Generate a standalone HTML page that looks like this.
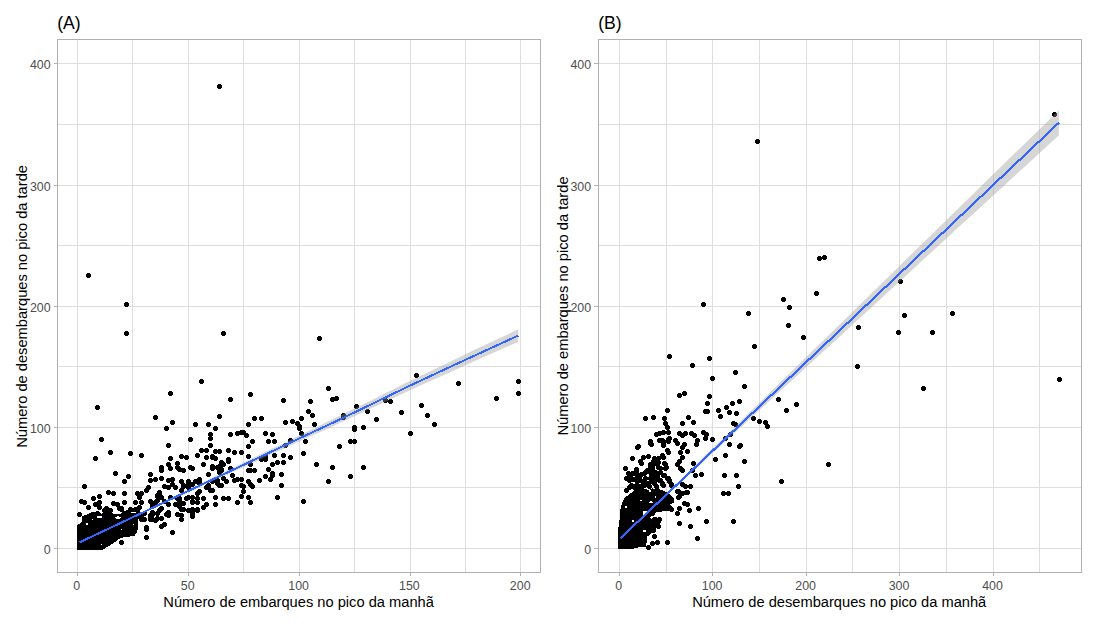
<!DOCTYPE html><html><head><meta charset="utf-8"><title>plot</title>
<style>html,body{margin:0;padding:0;background:#fff}svg{display:block}text{font-family:"Liberation Sans",sans-serif}</style></head><body>
<svg width="1096" height="624" viewBox="0 0 1096 624">
<rect width="1096" height="624" fill="#fff"/>
<defs><path id="p" d="M1 0h3v1h1v3h-1v1h-3v-1h-1v-3h1z"/></defs>
<g shape-rendering="crispEdges" stroke="#dedede" stroke-width="1">
<line x1="77.5" x2="77.5" y1="40" y2="572"/>
<line x1="132.5" x2="132.5" y1="40" y2="572"/>
<line x1="188.5" x2="188.5" y1="40" y2="572"/>
<line x1="243.5" x2="243.5" y1="40" y2="572"/>
<line x1="299.5" x2="299.5" y1="40" y2="572"/>
<line x1="354.5" x2="354.5" y1="40" y2="572"/>
<line x1="410.5" x2="410.5" y1="40" y2="572"/>
<line x1="465.5" x2="465.5" y1="40" y2="572"/>
<line x1="520.5" x2="520.5" y1="40" y2="572"/>
<line y1="548.5" y2="548.5" x1="58" x2="540"/>
<line y1="487.5" y2="487.5" x1="58" x2="540"/>
<line y1="427.5" y2="427.5" x1="58" x2="540"/>
<line y1="366.5" y2="366.5" x1="58" x2="540"/>
<line y1="306.5" y2="306.5" x1="58" x2="540"/>
<line y1="245.5" y2="245.5" x1="58" x2="540"/>
<line y1="185.5" y2="185.5" x1="58" x2="540"/>
<line y1="124.5" y2="124.5" x1="58" x2="540"/>
<line y1="63.5" y2="63.5" x1="58" x2="540"/>
</g>
<g shape-rendering="crispEdges" stroke="#dedede" stroke-width="1">
<line x1="619.5" x2="619.5" y1="40" y2="572"/>
<line x1="666.5" x2="666.5" y1="40" y2="572"/>
<line x1="712.5" x2="712.5" y1="40" y2="572"/>
<line x1="759.5" x2="759.5" y1="40" y2="572"/>
<line x1="806.5" x2="806.5" y1="40" y2="572"/>
<line x1="852.5" x2="852.5" y1="40" y2="572"/>
<line x1="899.5" x2="899.5" y1="40" y2="572"/>
<line x1="946.5" x2="946.5" y1="40" y2="572"/>
<line x1="993.5" x2="993.5" y1="40" y2="572"/>
<line x1="1039.5" x2="1039.5" y1="40" y2="572"/>
<line y1="548.5" y2="548.5" x1="599" x2="1081"/>
<line y1="487.5" y2="487.5" x1="599" x2="1081"/>
<line y1="427.5" y2="427.5" x1="599" x2="1081"/>
<line y1="366.5" y2="366.5" x1="599" x2="1081"/>
<line y1="306.5" y2="306.5" x1="599" x2="1081"/>
<line y1="245.5" y2="245.5" x1="599" x2="1081"/>
<line y1="185.5" y2="185.5" x1="599" x2="1081"/>
<line y1="124.5" y2="124.5" x1="599" x2="1081"/>
<line y1="63.5" y2="63.5" x1="599" x2="1081"/>
</g>
<g fill="#000" shape-rendering="crispEdges">
<polygon points="77.2,549.7 102.7,549.7 106.5,547.5 111,544.8 117,540.5 119.5,538.8 124,537.2 130,536.5 134,536.2 137.4,532 138,524 138,521 140,514 140,507.5 133.7,509 128,510 123.4,511 121,514 115,514.5 111.9,513 111.8,508.5 106,507 103.7,510 102,514 96.5,511.7 90.7,512.6 82.4,516.4 82,522 77.2,525.3"/>
<polygon points="618.2,549.3 631,549.3 637,547.6 646,547 646.6,542 647.5,536.5 651,533.5 655,531 656.5,527 655,522 652,520 650,517.5 653,514 657,512 661,511.5 665,511.3 670,511.3 672.3,509 672.3,506.5 670.5,504.5 674.3,502.5 674.3,499 672,497 669.5,494 664,491 659.6,489.5 652.4,488.4 649,490 646.8,489.5 641,487 636.4,488.4 630.8,493.2 624.4,498 620.7,506.5 619.7,519 618.2,529"/>
<ellipse cx="133.5" cy="524.5" rx="0.6" ry="0.6" fill="#fff"/>
<ellipse cx="121.5" cy="529.5" rx="0.6" ry="0.6" fill="#fff"/>
<ellipse cx="101.5" cy="544.5" rx="0.6" ry="0.6" fill="#fff"/>
<ellipse cx="118" cy="517.8" rx="3.0" ry="1.4" fill="#fff"/>
<ellipse cx="99.5" cy="516.8" rx="2.8" ry="1.2" fill="#fff"/>
<ellipse cx="86.9" cy="523.8" rx="1.0" ry="1.2" fill="#fff"/>
<ellipse cx="92.3" cy="519.4" rx="0.7" ry="0.7" fill="#fff"/>
<ellipse cx="133.5" cy="512.6" rx="2.2" ry="0.8" fill="#fff"/>
<ellipse cx="649.9" cy="491.2" rx="1.1" ry="1.1" fill="#fff"/>
<ellipse cx="651" cy="502.4" rx="2.0" ry="1.0" fill="#fff"/>
<ellipse cx="641" cy="500.4" rx="1.4" ry="0.8" fill="#fff"/>
<ellipse cx="644.8" cy="513.0" rx="2.4" ry="2.0" fill="#fff"/>
<ellipse cx="655.5" cy="497" rx="1.0" ry="1.0" fill="#fff"/>
<ellipse cx="644.7" cy="531.1" rx="1.6" ry="1.1" fill="#fff"/>
<ellipse cx="626" cy="507" rx="0.9" ry="0.9" fill="#fff"/>
<ellipse cx="633" cy="521" rx="0.8" ry="0.8" fill="#fff"/>
<use href="#p" x="217" y="84"/>
<use href="#p" x="86" y="273"/>
<use href="#p" x="124" y="302"/>
<use href="#p" x="124" y="331"/>
<use href="#p" x="221" y="331"/>
<use href="#p" x="317" y="336"/>
<use href="#p" x="199" y="379"/>
<use href="#p" x="168" y="391"/>
<use href="#p" x="326" y="386"/>
<use href="#p" x="308" y="399"/>
<use href="#p" x="330" y="397"/>
<use href="#p" x="334" y="396"/>
<use href="#p" x="306" y="409"/>
<use href="#p" x="310" y="413"/>
<use href="#p" x="299" y="416"/>
<use href="#p" x="312" y="422"/>
<use href="#p" x="297" y="426"/>
<use href="#p" x="299" y="431"/>
<use href="#p" x="341" y="413"/>
<use href="#p" x="341" y="415"/>
<use href="#p" x="354" y="404"/>
<use href="#p" x="365" y="409"/>
<use href="#p" x="352" y="425"/>
<use href="#p" x="352" y="427"/>
<use href="#p" x="361" y="425"/>
<use href="#p" x="374" y="417"/>
<use href="#p" x="383" y="398"/>
<use href="#p" x="388" y="399"/>
<use href="#p" x="399" y="410"/>
<use href="#p" x="414" y="373"/>
<use href="#p" x="419" y="403"/>
<use href="#p" x="425" y="413"/>
<use href="#p" x="432" y="422"/>
<use href="#p" x="408" y="431"/>
<use href="#p" x="456" y="381"/>
<use href="#p" x="494" y="396"/>
<use href="#p" x="516" y="379"/>
<use href="#p" x="516" y="391"/>
<use href="#p" x="303" y="439"/>
<use href="#p" x="301" y="451"/>
<use href="#p" x="314" y="462"/>
<use href="#p" x="330" y="465"/>
<use href="#p" x="326" y="479"/>
<use href="#p" x="301" y="499"/>
<use href="#p" x="337" y="444"/>
<use href="#p" x="348" y="439"/>
<use href="#p" x="352" y="439"/>
<use href="#p" x="348" y="474"/>
<use href="#p" x="361" y="465"/>
<use href="#p" x="228" y="397"/>
<use href="#p" x="248" y="392"/>
<use href="#p" x="281" y="398"/>
<use href="#p" x="217" y="414"/>
<use href="#p" x="252" y="416"/>
<use href="#p" x="259" y="416"/>
<use href="#p" x="246" y="422"/>
<use href="#p" x="283" y="420"/>
<use href="#p" x="290" y="419"/>
<use href="#p" x="295" y="421"/>
<use href="#p" x="297" y="424"/>
<use href="#p" x="206" y="422"/>
<use href="#p" x="213" y="426"/>
<use href="#p" x="228" y="432"/>
<use href="#p" x="235" y="431"/>
<use href="#p" x="239" y="430"/>
<use href="#p" x="241" y="430"/>
<use href="#p" x="244" y="433"/>
<use href="#p" x="263" y="431"/>
<use href="#p" x="270" y="432"/>
<use href="#p" x="208" y="432"/>
<use href="#p" x="208" y="436"/>
<use href="#p" x="208" y="443"/>
<use href="#p" x="250" y="439"/>
<use href="#p" x="246" y="444"/>
<use href="#p" x="266" y="439"/>
<use href="#p" x="272" y="439"/>
<use href="#p" x="288" y="438"/>
<use href="#p" x="283" y="443"/>
<use href="#p" x="204" y="448"/>
<use href="#p" x="213" y="449"/>
<use href="#p" x="217" y="449"/>
<use href="#p" x="226" y="448"/>
<use href="#p" x="232" y="450"/>
<use href="#p" x="239" y="450"/>
<use href="#p" x="246" y="454"/>
<use href="#p" x="263" y="454"/>
<use href="#p" x="272" y="453"/>
<use href="#p" x="281" y="453"/>
<use href="#p" x="288" y="455"/>
<use href="#p" x="210" y="454"/>
<use href="#p" x="259" y="457"/>
<use href="#p" x="275" y="460"/>
<use href="#p" x="281" y="460"/>
<use href="#p" x="270" y="462"/>
<use href="#p" x="266" y="467"/>
<use href="#p" x="248" y="462"/>
<use href="#p" x="246" y="468"/>
<use href="#p" x="248" y="468"/>
<use href="#p" x="252" y="468"/>
<use href="#p" x="279" y="472"/>
<use href="#p" x="270" y="471"/>
<use href="#p" x="270" y="473"/>
<use href="#p" x="263" y="474"/>
<use href="#p" x="268" y="477"/>
<use href="#p" x="257" y="478"/>
<use href="#p" x="279" y="483"/>
<use href="#p" x="275" y="495"/>
<use href="#p" x="246" y="479"/>
<use href="#p" x="248" y="482"/>
<use href="#p" x="250" y="484"/>
<use href="#p" x="239" y="483"/>
<use href="#p" x="241" y="484"/>
<use href="#p" x="241" y="489"/>
<use href="#p" x="239" y="494"/>
<use href="#p" x="246" y="495"/>
<use href="#p" x="248" y="500"/>
<use href="#p" x="235" y="500"/>
<use href="#p" x="226" y="496"/>
<use href="#p" x="221" y="496"/>
<use href="#p" x="213" y="495"/>
<use href="#p" x="213" y="502"/>
<use href="#p" x="204" y="502"/>
<use href="#p" x="206" y="485"/>
<use href="#p" x="210" y="488"/>
<use href="#p" x="217" y="483"/>
<use href="#p" x="215" y="481"/>
<use href="#p" x="224" y="479"/>
<use href="#p" x="221" y="476"/>
<use href="#p" x="230" y="473"/>
<use href="#p" x="232" y="478"/>
<use href="#p" x="235" y="477"/>
<use href="#p" x="239" y="477"/>
<use href="#p" x="228" y="466"/>
<use href="#p" x="226" y="457"/>
<use href="#p" x="226" y="459"/>
<use href="#p" x="219" y="460"/>
<use href="#p" x="221" y="462"/>
<use href="#p" x="217" y="464"/>
<use href="#p" x="210" y="464"/>
<use href="#p" x="210" y="466"/>
<use href="#p" x="217" y="468"/>
<use href="#p" x="219" y="467"/>
<use href="#p" x="210" y="455"/>
<use href="#p" x="213" y="456"/>
<use href="#p" x="206" y="472"/>
<use href="#p" x="204" y="455"/>
<use href="#p" x="215" y="478"/>
<use href="#p" x="95" y="405"/>
<use href="#p" x="153" y="415"/>
<use href="#p" x="170" y="420"/>
<use href="#p" x="164" y="426"/>
<use href="#p" x="193" y="422"/>
<use href="#p" x="99" y="437"/>
<use href="#p" x="188" y="437"/>
<use href="#p" x="166" y="443"/>
<use href="#p" x="108" y="450"/>
<use href="#p" x="128" y="451"/>
<use href="#p" x="139" y="453"/>
<use href="#p" x="93" y="456"/>
<use href="#p" x="168" y="456"/>
<use href="#p" x="179" y="454"/>
<use href="#p" x="184" y="455"/>
<use href="#p" x="195" y="453"/>
<use href="#p" x="199" y="448"/>
<use href="#p" x="201" y="462"/>
<use href="#p" x="188" y="465"/>
<use href="#p" x="175" y="461"/>
<use href="#p" x="175" y="465"/>
<use href="#p" x="177" y="467"/>
<use href="#p" x="181" y="468"/>
<use href="#p" x="166" y="462"/>
<use href="#p" x="168" y="466"/>
<use href="#p" x="159" y="465"/>
<use href="#p" x="159" y="468"/>
<use href="#p" x="113" y="471"/>
<use href="#p" x="126" y="474"/>
<use href="#p" x="122" y="479"/>
<use href="#p" x="148" y="472"/>
<use href="#p" x="148" y="478"/>
<use href="#p" x="153" y="477"/>
<use href="#p" x="159" y="476"/>
<use href="#p" x="166" y="478"/>
<use href="#p" x="170" y="477"/>
<use href="#p" x="162" y="484"/>
<use href="#p" x="166" y="485"/>
<use href="#p" x="170" y="482"/>
<use href="#p" x="173" y="485"/>
<use href="#p" x="179" y="479"/>
<use href="#p" x="186" y="482"/>
<use href="#p" x="193" y="479"/>
<use href="#p" x="197" y="478"/>
<use href="#p" x="181" y="484"/>
<use href="#p" x="186" y="485"/>
<use href="#p" x="82" y="484"/>
<use href="#p" x="146" y="485"/>
<use href="#p" x="144" y="488"/>
<use href="#p" x="106" y="490"/>
<use href="#p" x="111" y="491"/>
<use href="#p" x="122" y="491"/>
<use href="#p" x="97" y="494"/>
<use href="#p" x="91" y="496"/>
<use href="#p" x="79" y="499"/>
<use href="#p" x="82" y="500"/>
<use href="#p" x="135" y="491"/>
<use href="#p" x="139" y="491"/>
<use href="#p" x="137" y="495"/>
<use href="#p" x="133" y="500"/>
<use href="#p" x="139" y="500"/>
<use href="#p" x="157" y="490"/>
<use href="#p" x="155" y="494"/>
<use href="#p" x="159" y="495"/>
<use href="#p" x="155" y="498"/>
<use href="#p" x="148" y="499"/>
<use href="#p" x="150" y="501"/>
<use href="#p" x="168" y="495"/>
<use href="#p" x="166" y="502"/>
<use href="#p" x="122" y="500"/>
<use href="#p" x="111" y="501"/>
<use href="#p" x="97" y="500"/>
<use href="#p" x="93" y="502"/>
<use href="#p" x="97" y="505"/>
<use href="#p" x="86" y="505"/>
<use href="#p" x="77" y="512"/>
<use href="#p" x="104" y="506"/>
<use href="#p" x="102" y="508"/>
<use href="#p" x="115" y="502"/>
<use href="#p" x="119" y="506"/>
<use href="#p" x="201" y="496"/>
<use href="#p" x="197" y="489"/>
<use href="#p" x="195" y="491"/>
<use href="#p" x="186" y="495"/>
<use href="#p" x="190" y="495"/>
<use href="#p" x="190" y="499"/>
<use href="#p" x="195" y="500"/>
<use href="#p" x="177" y="498"/>
<use href="#p" x="175" y="502"/>
<use href="#p" x="181" y="501"/>
<use href="#p" x="201" y="505"/>
<use href="#p" x="179" y="507"/>
<use href="#p" x="175" y="512"/>
<use href="#p" x="179" y="517"/>
<use href="#p" x="186" y="508"/>
<use href="#p" x="190" y="507"/>
<use href="#p" x="195" y="508"/>
<use href="#p" x="190" y="512"/>
<use href="#p" x="166" y="510"/>
<use href="#p" x="164" y="512"/>
<use href="#p" x="159" y="506"/>
<use href="#p" x="157" y="508"/>
<use href="#p" x="150" y="510"/>
<use href="#p" x="148" y="514"/>
<use href="#p" x="155" y="516"/>
<use href="#p" x="159" y="516"/>
<use href="#p" x="139" y="516"/>
<use href="#p" x="162" y="522"/>
<use href="#p" x="159" y="524"/>
<use href="#p" x="144" y="525"/>
<use href="#p" x="144" y="527"/>
<use href="#p" x="144" y="535"/>
<use href="#p" x="170" y="530"/>
<use href="#p" x="119" y="540"/>
<use href="#p" x="117" y="506"/>
<use href="#p" x="119" y="507"/>
<use href="#p" x="95" y="511"/>
<use href="#p" x="108" y="508"/>
<use href="#p" x="153" y="500"/>
<use href="#p" x="155" y="493"/>
<use href="#p" x="128" y="507"/>
<use href="#p" x="126" y="510"/>
<use href="#p" x="139" y="517"/>
<use href="#p" x="150" y="517"/>
<use href="#p" x="150" y="512"/>
<use href="#p" x="137" y="505"/>
<use href="#p" x="133" y="507"/>
<use href="#p" x="130" y="513"/>
<use href="#p" x="157" y="493"/>
<use href="#p" x="150" y="504"/>
<use href="#p" x="162" y="499"/>
<use href="#p" x="175" y="496"/>
<use href="#p" x="177" y="504"/>
<use href="#p" x="142" y="511"/>
<use href="#p" x="139" y="514"/>
<use href="#p" x="142" y="517"/>
<use href="#p" x="148" y="513"/>
<use href="#p" x="153" y="518"/>
<use href="#p" x="148" y="517"/>
<use href="#p" x="155" y="511"/>
<use href="#p" x="190" y="466"/>
<use href="#p" x="215" y="465"/>
<use href="#p" x="217" y="470"/>
<use href="#p" x="219" y="468"/>
<use href="#p" x="181" y="483"/>
<use href="#p" x="186" y="479"/>
<use href="#p" x="190" y="482"/>
<use href="#p" x="197" y="477"/>
<use href="#p" x="197" y="481"/>
<use href="#p" x="179" y="488"/>
<use href="#p" x="210" y="479"/>
<use href="#p" x="206" y="483"/>
<use href="#p" x="204" y="485"/>
<use href="#p" x="208" y="488"/>
<use href="#p" x="219" y="483"/>
<use href="#p" x="184" y="496"/>
<use href="#p" x="190" y="500"/>
<use href="#p" x="195" y="496"/>
<use href="#p" x="177" y="496"/>
<use href="#p" x="173" y="502"/>
<use href="#p" x="177" y="501"/>
<use href="#p" x="181" y="507"/>
<use href="#p" x="179" y="513"/>
<use href="#p" x="190" y="510"/>
<use href="#p" x="195" y="507"/>
<use href="#p" x="190" y="514"/>
<use href="#p" x="166" y="513"/>
<use href="#p" x="263" y="457"/>
<use href="#p" x="755" y="139"/>
<use href="#p" x="817" y="256"/>
<use href="#p" x="822" y="255"/>
<use href="#p" x="1052" y="112"/>
<use href="#p" x="814" y="291"/>
<use href="#p" x="781" y="297"/>
<use href="#p" x="787" y="305"/>
<use href="#p" x="701" y="302"/>
<use href="#p" x="746" y="311"/>
<use href="#p" x="786" y="323"/>
<use href="#p" x="801" y="335"/>
<use href="#p" x="752" y="344"/>
<use href="#p" x="667" y="354"/>
<use href="#p" x="707" y="356"/>
<use href="#p" x="690" y="363"/>
<use href="#p" x="856" y="325"/>
<use href="#p" x="855" y="364"/>
<use href="#p" x="898" y="279"/>
<use href="#p" x="902" y="313"/>
<use href="#p" x="950" y="311"/>
<use href="#p" x="896" y="330"/>
<use href="#p" x="930" y="330"/>
<use href="#p" x="921" y="386"/>
<use href="#p" x="1057" y="377"/>
<use href="#p" x="733" y="370"/>
<use href="#p" x="710" y="376"/>
<use href="#p" x="742" y="384"/>
<use href="#p" x="707" y="394"/>
<use href="#p" x="705" y="401"/>
<use href="#p" x="704" y="409"/>
<use href="#p" x="716" y="408"/>
<use href="#p" x="718" y="414"/>
<use href="#p" x="724" y="405"/>
<use href="#p" x="727" y="410"/>
<use href="#p" x="730" y="401"/>
<use href="#p" x="737" y="399"/>
<use href="#p" x="734" y="411"/>
<use href="#p" x="731" y="421"/>
<use href="#p" x="728" y="432"/>
<use href="#p" x="723" y="436"/>
<use href="#p" x="751" y="416"/>
<use href="#p" x="757" y="419"/>
<use href="#p" x="763" y="420"/>
<use href="#p" x="765" y="424"/>
<use href="#p" x="776" y="397"/>
<use href="#p" x="784" y="408"/>
<use href="#p" x="794" y="402"/>
<use href="#p" x="701" y="430"/>
<use href="#p" x="704" y="432"/>
<use href="#p" x="703" y="436"/>
<use href="#p" x="710" y="437"/>
<use href="#p" x="677" y="393"/>
<use href="#p" x="682" y="391"/>
<use href="#p" x="665" y="408"/>
<use href="#p" x="703" y="409"/>
<use href="#p" x="705" y="409"/>
<use href="#p" x="643" y="416"/>
<use href="#p" x="651" y="415"/>
<use href="#p" x="662" y="416"/>
<use href="#p" x="686" y="415"/>
<use href="#p" x="691" y="420"/>
<use href="#p" x="680" y="421"/>
<use href="#p" x="733" y="422"/>
<use href="#p" x="663" y="421"/>
<use href="#p" x="665" y="425"/>
<use href="#p" x="666" y="430"/>
<use href="#p" x="654" y="432"/>
<use href="#p" x="657" y="431"/>
<use href="#p" x="661" y="430"/>
<use href="#p" x="657" y="438"/>
<use href="#p" x="661" y="439"/>
<use href="#p" x="666" y="437"/>
<use href="#p" x="661" y="443"/>
<use href="#p" x="648" y="439"/>
<use href="#p" x="649" y="442"/>
<use href="#p" x="636" y="444"/>
<use href="#p" x="677" y="431"/>
<use href="#p" x="683" y="431"/>
<use href="#p" x="680" y="433"/>
<use href="#p" x="689" y="431"/>
<use href="#p" x="692" y="433"/>
<use href="#p" x="673" y="438"/>
<use href="#p" x="675" y="441"/>
<use href="#p" x="695" y="438"/>
<use href="#p" x="694" y="442"/>
<use href="#p" x="682" y="442"/>
<use href="#p" x="680" y="445"/>
<use href="#p" x="678" y="450"/>
<use href="#p" x="685" y="449"/>
<use href="#p" x="665" y="448"/>
<use href="#p" x="666" y="450"/>
<use href="#p" x="660" y="453"/>
<use href="#p" x="646" y="454"/>
<use href="#p" x="641" y="455"/>
<use href="#p" x="638" y="459"/>
<use href="#p" x="639" y="461"/>
<use href="#p" x="630" y="456"/>
<use href="#p" x="623" y="466"/>
<use href="#p" x="680" y="455"/>
<use href="#p" x="677" y="459"/>
<use href="#p" x="675" y="462"/>
<use href="#p" x="678" y="466"/>
<use href="#p" x="680" y="468"/>
<use href="#p" x="691" y="461"/>
<use href="#p" x="690" y="468"/>
<use href="#p" x="693" y="473"/>
<use href="#p" x="699" y="472"/>
<use href="#p" x="680" y="482"/>
<use href="#p" x="683" y="484"/>
<use href="#p" x="688" y="484"/>
<use href="#p" x="713" y="457"/>
<use href="#p" x="723" y="453"/>
<use href="#p" x="727" y="442"/>
<use href="#p" x="737" y="444"/>
<use href="#p" x="738" y="443"/>
<use href="#p" x="742" y="459"/>
<use href="#p" x="722" y="473"/>
<use href="#p" x="734" y="473"/>
<use href="#p" x="736" y="484"/>
<use href="#p" x="721" y="491"/>
<use href="#p" x="726" y="491"/>
<use href="#p" x="684" y="490"/>
<use href="#p" x="680" y="491"/>
<use href="#p" x="675" y="489"/>
<use href="#p" x="676" y="495"/>
<use href="#p" x="682" y="501"/>
<use href="#p" x="685" y="502"/>
<use href="#p" x="696" y="506"/>
<use href="#p" x="687" y="508"/>
<use href="#p" x="677" y="506"/>
<use href="#p" x="675" y="511"/>
<use href="#p" x="666" y="506"/>
<use href="#p" x="669" y="507"/>
<use href="#p" x="668" y="499"/>
<use href="#p" x="665" y="496"/>
<use href="#p" x="658" y="507"/>
<use href="#p" x="661" y="502"/>
<use href="#p" x="677" y="521"/>
<use href="#p" x="688" y="524"/>
<use href="#p" x="704" y="519"/>
<use href="#p" x="731" y="519"/>
<use href="#p" x="695" y="536"/>
<use href="#p" x="652" y="534"/>
<use href="#p" x="650" y="541"/>
<use href="#p" x="655" y="540"/>
<use href="#p" x="665" y="540"/>
<use href="#p" x="656" y="524"/>
<use href="#p" x="652" y="521"/>
<use href="#p" x="657" y="517"/>
<use href="#p" x="652" y="517"/>
<use href="#p" x="651" y="528"/>
<use href="#p" x="646" y="545"/>
<use href="#p" x="648" y="441"/>
<use href="#p" x="661" y="442"/>
<use href="#p" x="652" y="456"/>
<use href="#p" x="656" y="456"/>
<use href="#p" x="660" y="454"/>
<use href="#p" x="648" y="462"/>
<use href="#p" x="653" y="461"/>
<use href="#p" x="656" y="465"/>
<use href="#p" x="662" y="461"/>
<use href="#p" x="663" y="466"/>
<use href="#p" x="648" y="470"/>
<use href="#p" x="653" y="470"/>
<use href="#p" x="650" y="474"/>
<use href="#p" x="652" y="478"/>
<use href="#p" x="661" y="473"/>
<use href="#p" x="666" y="476"/>
<use href="#p" x="658" y="478"/>
<use href="#p" x="660" y="482"/>
<use href="#p" x="669" y="483"/>
<use href="#p" x="667" y="479"/>
<use href="#p" x="626" y="471"/>
<use href="#p" x="634" y="468"/>
<use href="#p" x="629" y="472"/>
<use href="#p" x="624" y="476"/>
<use href="#p" x="635" y="472"/>
<use href="#p" x="639" y="472"/>
<use href="#p" x="643" y="470"/>
<use href="#p" x="629" y="483"/>
<use href="#p" x="624" y="488"/>
<use href="#p" x="641" y="479"/>
<use href="#p" x="637" y="477"/>
<use href="#p" x="634" y="476"/>
<use href="#p" x="676" y="489"/>
<use href="#p" x="679" y="491"/>
<use href="#p" x="685" y="490"/>
<use href="#p" x="677" y="494"/>
<use href="#p" x="660" y="453"/>
<use href="#p" x="661" y="455"/>
<use href="#p" x="653" y="457"/>
<use href="#p" x="651" y="459"/>
<use href="#p" x="656" y="460"/>
<use href="#p" x="648" y="464"/>
<use href="#p" x="650" y="465"/>
<use href="#p" x="656" y="465"/>
<use href="#p" x="658" y="466"/>
<use href="#p" x="663" y="462"/>
<use href="#p" x="664" y="465"/>
<use href="#p" x="645" y="468"/>
<use href="#p" x="634" y="467"/>
<use href="#p" x="626" y="471"/>
<use href="#p" x="630" y="471"/>
<use href="#p" x="634" y="472"/>
<use href="#p" x="639" y="472"/>
<use href="#p" x="642" y="471"/>
<use href="#p" x="624" y="476"/>
<use href="#p" x="628" y="474"/>
<use href="#p" x="649" y="472"/>
<use href="#p" x="653" y="472"/>
<use href="#p" x="651" y="476"/>
<use href="#p" x="648" y="476"/>
<use href="#p" x="649" y="479"/>
<use href="#p" x="652" y="481"/>
<use href="#p" x="662" y="473"/>
<use href="#p" x="665" y="476"/>
<use href="#p" x="657" y="478"/>
<use href="#p" x="660" y="481"/>
<use href="#p" x="661" y="483"/>
<use href="#p" x="667" y="478"/>
<use href="#p" x="669" y="482"/>
<use href="#p" x="635" y="479"/>
<use href="#p" x="640" y="479"/>
<use href="#p" x="634" y="483"/>
<use href="#p" x="638" y="484"/>
<use href="#p" x="647" y="484"/>
<use href="#p" x="655" y="488"/>
<use href="#p" x="657" y="490"/>
<use href="#p" x="779" y="479"/>
<use href="#p" x="826" y="462"/>
<use href="#p" x="627" y="478"/>
<use href="#p" x="631" y="477"/>
<use href="#p" x="632" y="485"/>
<use href="#p" x="637" y="474"/>
<use href="#p" x="643" y="476"/>
<use href="#p" x="645" y="481"/>
<use href="#p" x="642" y="483"/>
<use href="#p" x="627" y="485"/>
<use href="#p" x="654" y="484"/>
<use href="#p" x="650" y="468"/>
<use href="#p" x="658" y="470"/>
<use href="#p" x="655" y="474"/>
<use href="#p" x="658" y="507"/>
<use href="#p" x="656" y="505"/>
<use href="#p" x="650" y="511"/>
<use href="#p" x="653" y="517"/>
<use href="#p" x="656" y="519"/>
<use href="#p" x="660" y="504"/>
<use href="#p" x="667" y="436"/>
<use href="#p" x="666" y="439"/>
<use href="#p" x="660" y="438"/>
<use href="#p" x="635" y="445"/>
</g>
<polygon fill="#999999" fill-opacity="0.4" points="79.5,541.6 90.7,536.3 102.0,531.0 113.2,525.7 124.5,520.3 135.7,514.9 147.0,509.5 158.2,504.1 169.5,498.6 180.7,493.1 192.0,487.7 203.2,482.2 214.5,476.7 225.7,471.3 237.0,465.8 248.2,460.3 259.5,454.8 270.7,449.3 282.0,443.9 293.2,438.4 304.5,432.9 315.7,427.5 327.0,422.1 338.2,416.6 349.5,411.1 360.7,405.5 372.0,399.9 383.2,394.3 394.5,388.7 405.7,383.1 417.0,377.6 428.2,372.2 439.5,366.8 450.7,361.4 462.0,356.0 473.2,350.6 484.5,345.3 495.7,340.0 507.0,334.7 518.2,329.3 518.2,341.9 507.0,346.8 495.7,351.8 484.5,356.8 473.2,361.8 462.0,366.8 450.7,371.9 439.5,377.0 428.2,382.0 417.0,387.1 405.7,392.2 394.5,397.5 383.2,402.8 372.0,408.1 360.7,413.3 349.5,418.6 338.2,423.8 327.0,428.9 315.7,434.0 304.5,439.1 293.2,444.2 282.0,449.4 270.7,454.5 259.5,459.7 248.2,464.9 237.0,470.0 225.7,475.2 214.5,480.3 203.2,485.5 192.0,490.7 180.7,495.8 169.5,501.0 158.2,506.2 147.0,511.4 135.7,516.6 124.5,521.9 113.2,527.1 102.0,532.4 90.7,537.8 79.5,543.2"/><polygon fill="#999999" fill-opacity="0.4" points="620.4,537.3 631.6,526.7 642.9,516.1 654.1,505.3 665.4,494.4 676.6,483.5 687.9,472.6 699.1,461.6 710.3,450.6 721.6,439.7 732.8,428.7 744.1,417.7 755.3,406.7 766.6,395.8 777.8,384.8 789.1,373.8 800.3,362.8 811.5,351.8 822.8,340.9 834.0,329.9 845.3,318.9 856.5,307.9 867.8,296.9 879.0,285.9 890.2,275.0 901.5,264.0 912.7,253.0 924.0,242.0 935.2,231.0 946.5,220.0 957.7,209.1 969.0,198.1 980.2,187.1 991.4,176.1 1002.7,165.1 1013.9,154.1 1025.2,143.2 1036.4,132.2 1047.7,121.2 1058.9,110.2 1058.9,135.2 1047.7,145.6 1036.4,155.9 1025.2,166.2 1013.9,176.5 1002.7,186.9 991.4,197.2 980.2,207.5 969.0,217.8 957.7,228.1 946.5,238.5 935.2,248.8 924.0,259.1 912.7,269.4 901.5,279.8 890.2,290.1 879.0,300.4 867.8,310.7 856.5,321.0 845.3,331.4 834.0,341.7 822.8,352.0 811.5,362.3 800.3,372.7 789.1,383.0 777.8,393.3 766.6,403.6 755.3,414.0 744.1,424.3 732.8,434.6 721.6,445.0 710.3,455.3 699.1,465.7 687.9,476.0 676.6,486.4 665.4,496.8 654.1,507.2 642.9,517.7 631.6,528.4 620.4,539.1"/>
<polyline fill="none" stroke="#3366ff" stroke-width="2" shape-rendering="crispEdges" stroke-linejoin="round" points="79.5,542.4 250.0,461.8 300.0,438.1 344.0,417.5 410.6,385.3 465.4,359.8 518.2,335.6"/><polyline fill="none" stroke="#3366ff" stroke-width="2.15" shape-rendering="crispEdges" stroke-linejoin="round" points="620.4,538.2 1058.9,122.7"/>
<g shape-rendering="crispEdges" fill="none" stroke="#b0b0b0" stroke-width="1">
<rect x="57.5" y="39.5" width="483" height="533"/>
<rect x="598.5" y="39.5" width="483" height="533"/>
</g>
<g shape-rendering="crispEdges" stroke="#b3b3b3" stroke-width="1">
<line x1="54" x2="57" y1="548.5" y2="548.5"/>
<line x1="594" x2="598" y1="548.5" y2="548.5"/>
<line x1="54" x2="57" y1="427.5" y2="427.5"/>
<line x1="594" x2="598" y1="427.5" y2="427.5"/>
<line x1="54" x2="57" y1="306.5" y2="306.5"/>
<line x1="594" x2="598" y1="306.5" y2="306.5"/>
<line x1="54" x2="57" y1="185.5" y2="185.5"/>
<line x1="594" x2="598" y1="185.5" y2="185.5"/>
<line x1="54" x2="57" y1="63.5" y2="63.5"/>
<line x1="594" x2="598" y1="63.5" y2="63.5"/>
<line x1="77.5" x2="77.5" y1="573" y2="576"/>
<line x1="188.5" x2="188.5" y1="573" y2="576"/>
<line x1="299.5" x2="299.5" y1="573" y2="576"/>
<line x1="410.5" x2="410.5" y1="573" y2="576"/>
<line x1="520.5" x2="520.5" y1="573" y2="576"/>
<line x1="619.5" x2="619.5" y1="573" y2="576"/>
<line x1="712.5" x2="712.5" y1="573" y2="576"/>
<line x1="806.5" x2="806.5" y1="573" y2="576"/>
<line x1="899.5" x2="899.5" y1="573" y2="576"/>
<line x1="993.5" x2="993.5" y1="573" y2="576"/>
</g>
<g fill="#4d4d4d" font-size="12.4px">
<text x="50.6" y="554.4" text-anchor="end">0</text>
<text x="591.1" y="554.4" text-anchor="end">0</text>
<text x="50.6" y="433.1" text-anchor="end">100</text>
<text x="591.1" y="433.1" text-anchor="end">100</text>
<text x="50.6" y="311.9" text-anchor="end">200</text>
<text x="591.1" y="311.9" text-anchor="end">200</text>
<text x="50.6" y="190.7" text-anchor="end">300</text>
<text x="591.1" y="190.7" text-anchor="end">300</text>
<text x="50.6" y="69.4" text-anchor="end">400</text>
<text x="591.1" y="69.4" text-anchor="end">400</text>
<text x="76.8" y="590" text-anchor="middle">0</text>
<text x="187.7" y="590" text-anchor="middle">50</text>
<text x="298.6" y="590" text-anchor="middle">100</text>
<text x="409.4" y="590" text-anchor="middle">150</text>
<text x="520.2" y="590" text-anchor="middle">200</text>
<text x="618.7" y="590" text-anchor="middle">0</text>
<text x="712.1" y="590" text-anchor="middle">100</text>
<text x="805.6" y="590" text-anchor="middle">200</text>
<text x="899.0" y="590" text-anchor="middle">300</text>
<text x="992.5" y="590" text-anchor="middle">400</text>
</g>
<g fill="#000">
<text x="57.2" y="28.8" font-size="17.6px">(A)</text>
<text x="598.2" y="28.8" font-size="17.6px">(B)</text>
<text x="298.6" y="607.3" font-size="14.67px" text-anchor="middle">Número de embarques no pico da manhã</text>
<text x="839.2" y="607.3" font-size="14.67px" text-anchor="middle">Número de desembarques no pico da manhã</text>
<text transform="translate(27,306.4) rotate(-90)" font-size="14.67px" text-anchor="middle">Número de desembarques no pico da tarde</text>
<text transform="translate(567.7,306) rotate(-90)" font-size="14.67px" text-anchor="middle">Número de embarques no pico da tarde</text>
</g>
</svg></body></html>
